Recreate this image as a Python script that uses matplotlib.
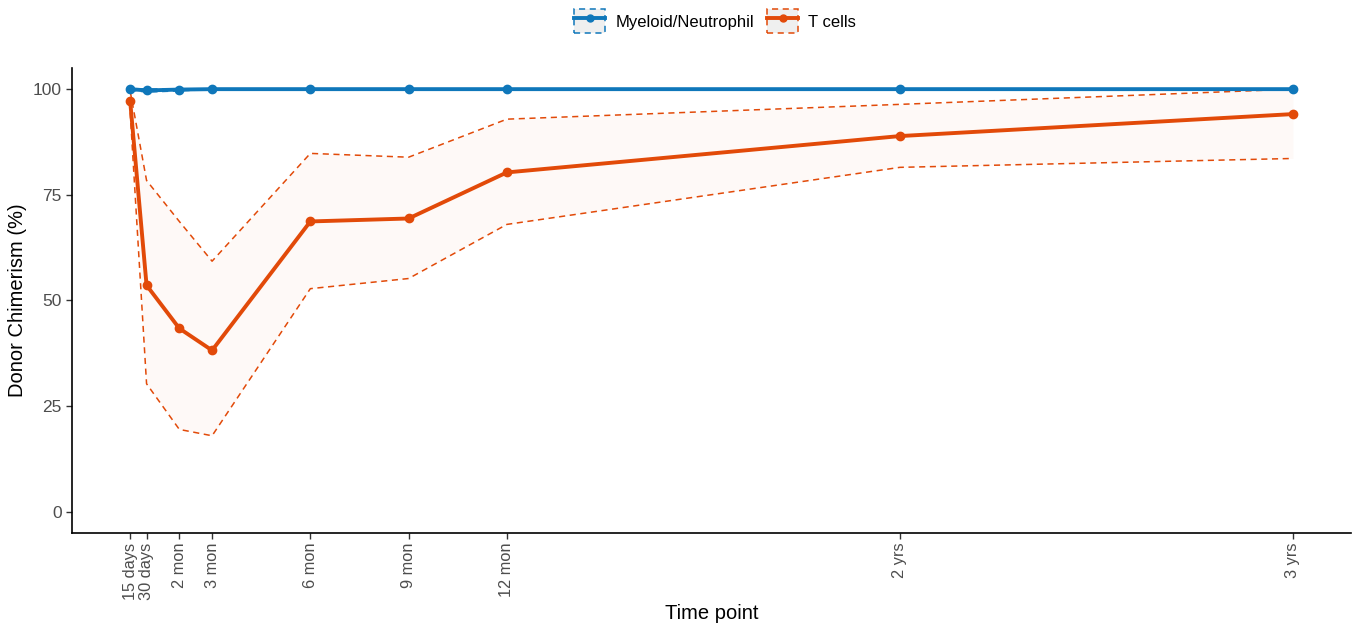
import matplotlib
matplotlib.use("Agg")
import matplotlib.pyplot as plt
from matplotlib.patches import Patch
from matplotlib.lines import Line2D
from matplotlib.legend_handler import HandlerTuple

plt.rcParams['font.family'] = ['Liberation Sans', 'DejaVu Sans']

# Data
time_months = [0.5, 1, 2, 3, 6, 9, 12, 24, 36]
tick_labels = ["15 days", "30 days", "2 mon", "3 mon", "6 mon", "9 mon", "12 mon", "2 yrs", "3 yrs"]

myeloid = [100, 99.7, 99.9, 100, 100, 100, 100, 100, 100]
myeloid_lo = [99.8, 99.3, 99.6, 99.9, 99.9, 99.9, 99.9, 99.9, 99.9]
myeloid_hi = [100, 100, 100, 100, 100, 100, 100, 100, 100]

tcells = [97.1, 53.6, 43.4, 38.2, 68.7, 69.4, 80.3, 88.9, 94.1]
tcells_lo = [94.5, 30.3, 19.5, 18.0, 52.8, 55.2, 68.0, 81.5, 83.6]
tcells_hi = [99.5, 78.4, 68.7, 59.3, 84.8, 83.9, 92.9, 96.4, 100]

blue = "#0F77BA"
orange = "#E24A09"

fig = plt.figure(figsize=(13.62, 6.28), dpi=100)
ax = fig.add_axes([0.0529, 0.1513, 0.9391, 0.7404])

# ribbons
ax.fill_between(time_months, myeloid_lo, myeloid_hi, color=blue, alpha=0.04, lw=0)
ax.plot(time_months, myeloid_lo, color=blue, lw=1.1, ls=(0, (4, 3)))
ax.plot(time_months, myeloid_hi, color=blue, lw=1.1, ls=(0, (4, 3)))

ax.fill_between(time_months, tcells_lo, tcells_hi, color=orange, alpha=0.03, lw=0)
ax.plot(time_months, tcells_lo, color=orange, lw=1.1, ls=(0, (4, 3)))
ax.plot(time_months, tcells_hi, color=orange, lw=1.1, ls=(0, (4, 3)))

ax.plot(time_months, tcells, color=orange, lw=2.8, marker='o', ms=6, zorder=5)
ax.plot(time_months, myeloid, color=blue, lw=2.8, marker='o', ms=6, zorder=6)

ax.set_xlim(0.5 - 1.775, 36 + 1.775)
ax.set_ylim(-5, 105)
ax.set_xticks(time_months)
ax.set_xticklabels(tick_labels, rotation=90)
ax.set_yticks([0, 25, 50, 75, 100])
ax.tick_params(axis='both', labelcolor='#4D4D4D', color='#333333', length=4, width=1)
ax.tick_params(axis='y', labelsize=12.5)
ax.tick_params(axis='x', labelsize=11.8, pad=3)
for s in ['top', 'right']:
    ax.spines[s].set_visible(False)
for s in ['left', 'bottom']:
    ax.spines[s].set_linewidth(1.2)
ax.set_xlabel("Time point", fontsize=14.5, labelpad=3)
ax.set_ylabel("Donor Chimerism (%)", fontsize=14.5, labelpad=4)

def handle(c):
    p = Patch(facecolor=(0.5, 0.5, 0.5, 0.12), edgecolor=c, linestyle=(0, (4, 3)), linewidth=1.1)
    l = Line2D([], [], color=c, lw=2.8, marker='o', ms=5)
    return (p, l)

leg = fig.legend([handle(blue), handle(orange)], ["Myeloid/Neutrophil", "T cells"],
                 handler_map={tuple: HandlerTuple(ndivide=1, pad=0)},
                 loc='center', bbox_to_anchor=(0.525, 0.966), ncol=2, frameon=False,
                 fontsize=12, handlelength=1.85, handleheight=1.85, columnspacing=0.8,
                 handletextpad=0.6)

fig.savefig("out.png", dpi=100)
